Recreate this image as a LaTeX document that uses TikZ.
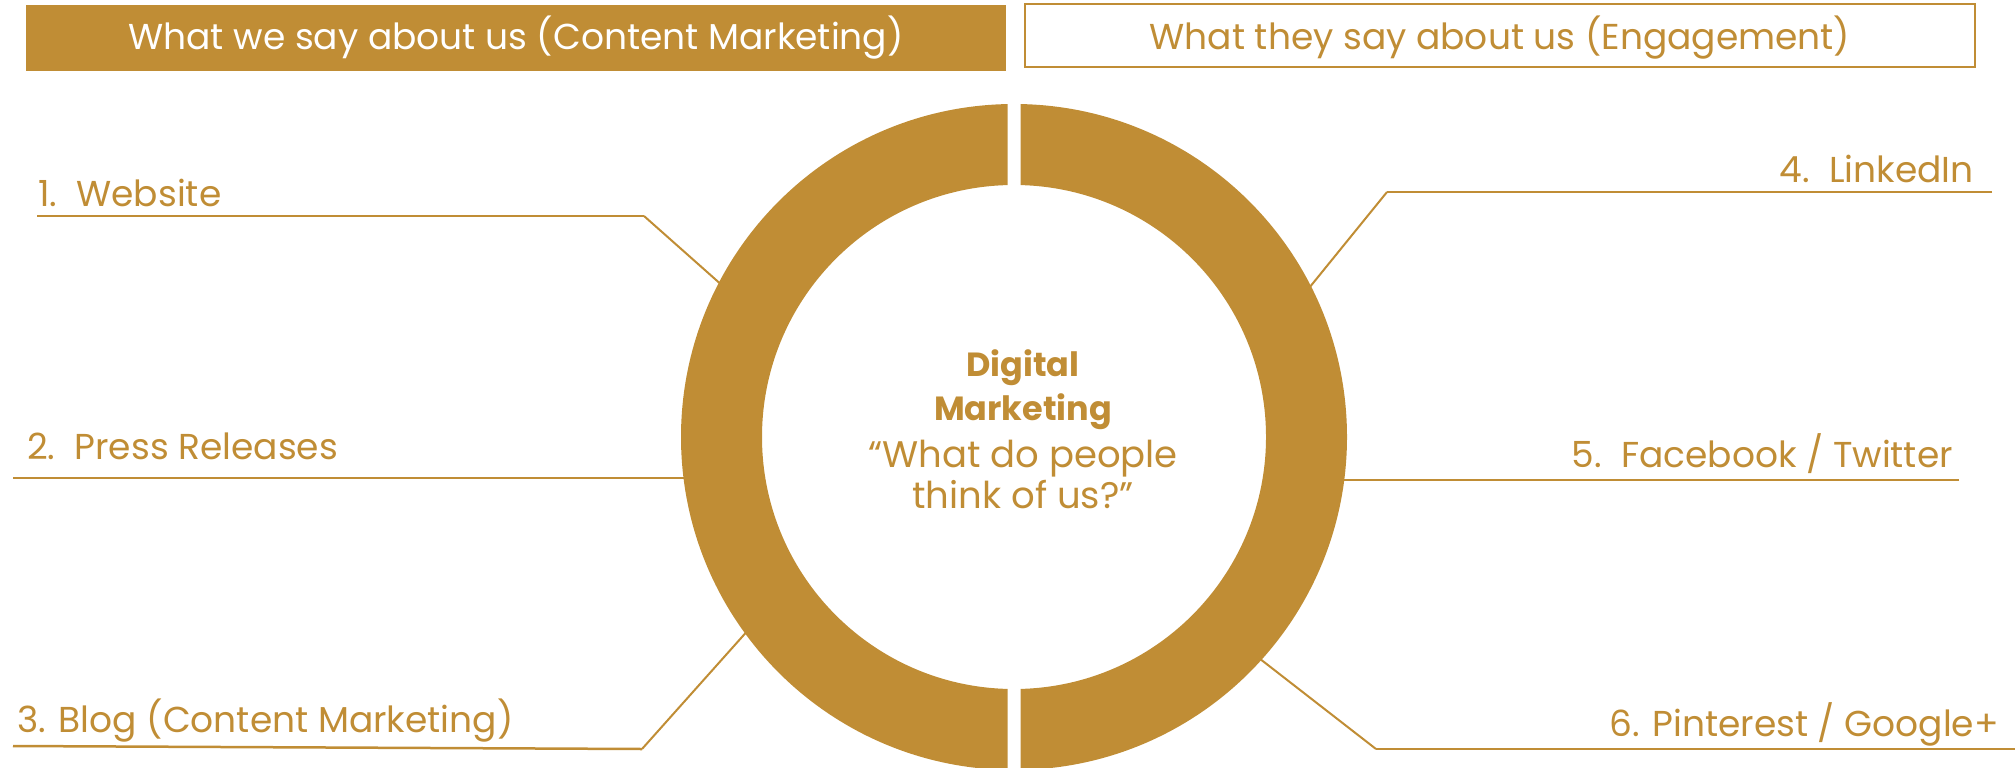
\documentclass[tikz,border=0pt]{standalone}
\usepackage{fontspec}
\setmainfont{Poppins}
\definecolor{gold}{RGB}{192,141,53}
\begin{document}
\begin{tikzpicture}[x=1pt,y=-1pt,
  lead/.style={draw=gold,line width=2.5pt},
  slant/.style={draw=gold,line width=2pt},
  itemtext/.style={text=gold,font=\fontsize{36}{42}\selectfont,inner sep=0pt},
  headtext/.style={font=\fontsize{36}{42}\selectfont,inner sep=0pt},
  midtext/.style={text=gold,font=\fontsize{37}{44}\selectfont,inner sep=0pt,anchor=base},
  midbold/.style={midtext,font=\fontsize{33.5}{44}\selectfont\bfseries}]
\useasboundingbox (0,0) rectangle (2015,768);

% header bars
\node[fill=gold,minimum width=980pt,minimum height=66pt,inner sep=0pt] (hl) at (516,38) {};
\node[headtext,text=white,anchor=base] (hlt) at (516,49) {What we say about us (Content Marketing)};
\node[draw=gold,line width=2pt,fill=white,minimum width=950pt,minimum height=63pt,inner sep=0pt] (hr) at (1500,36) {};
\node[headtext,text=gold,anchor=base] (hrt) at (1500,49) {What they say about us (Engagement)};

% leader lines
\coordinate (a1) at (37,216);  \coordinate (b1) at (644,216);  \coordinate (e1) at (724,287);
\coordinate (a2) at (13,478);  \coordinate (e2) at (700,478);
\coordinate (a3) at (13,746);  \coordinate (b3) at (642,749);  \coordinate (e3) at (750,628);
\coordinate (a4) at (1992,192); \coordinate (b4) at (1387,192); \coordinate (e4) at (1305,293);
\coordinate (a5) at (1959,480); \coordinate (e5) at (1330,480);
\coordinate (a6) at (2015,749); \coordinate (b6) at (1376,749); \coordinate (e6) at (1255,655);

\draw[lead] (a1) -- (b1); \draw[slant] (b1) -- (e1);
\draw[lead] (a2) -- (e2);
\draw[lead] (a3) -- (b3); \draw[slant] (b3) -- (e3);
\draw[lead] (a4) -- (b4); \draw[slant] (b4) -- (e4);
\draw[lead] (a5) -- (e5);
\draw[lead] (a6) -- (b6); \draw[slant] (b6) -- (e6);

% the split ring
\coordinate (c) at (1014,437);
\begin{scope}
  \clip (0,0) rectangle (1007.5,768);
  \fill[gold,even odd rule] (c) circle[radius=333] (c) circle[radius=252];
\end{scope}
\begin{scope}
  \clip (1020.5,0) rectangle (2015,768);
  \fill[gold,even odd rule] (c) circle[radius=333] (c) circle[radius=252];
\end{scope}

% item labels
\node[itemtext,anchor=base west] (t1) at (38,206) {1.\ \ Website};
\node[itemtext,anchor=base west] (t2) at (27,459) {2.\ \ Press Releases};
\node[itemtext,anchor=base west] (t3) at (17,732) {3. Blog (Content Marketing)};
\node[itemtext,anchor=base east] (t4) at (1974,182) {4.\ \ LinkedIn};
\node[itemtext,anchor=base east] (t5) at (1953,467) {5.\ \ Facebook / Twitter};
\node[itemtext,anchor=base east] (t6) at (1999,736) {6. Pinterest / Google+};

% centre text
\node[midbold] (m1) at (1023,376) {Digital};
\node[midbold] (m2) at (1023,420) {Marketing};
\node[midtext] (m3) at (1023,467) {“What do people};
\node[midtext] (m4) at (1023,508) {think of us?”};
\end{tikzpicture}
\end{document}
